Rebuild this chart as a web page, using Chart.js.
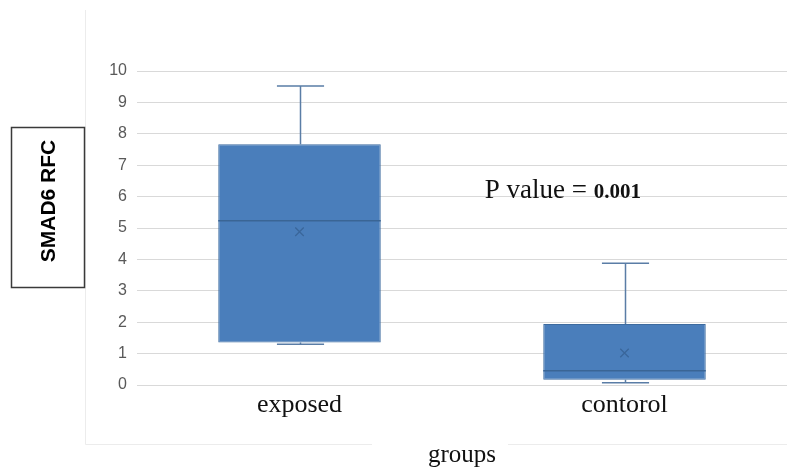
<!DOCTYPE html>
<html><head><meta charset="utf-8">
<script src="https://cdn.jsdelivr.net/npm/chart.js@4/dist/chart.umd.min.js"></script>
<style>html,body{margin:0;padding:0;background:#fff}#wrap{width:787px;height:470px}</style>
</head><body><div id="wrap"><canvas id="c" width="787" height="470"></canvas></div>
<script>
const categories = ['exposed', 'contorol'];
const whiskerMin = [1.30, 0.07];
const q1 = [1.35, 0.17];
const median = [5.23, 0.45];
const q3 = [7.67, 1.94];
const whiskerMax = [9.52, 3.88];
const meanValues = [4.88, 1.02];
const yMin = 0, yMax = 10, yStep = 1;
const yTitle = 'SMAD6 RFC';
const xTitle = 'groups';
const pLabel = 'P value = ';
const pValue = '0.001';

const boxFill = '#4a7ebb';
const boxEdge = '#3d6b9f';
const whiskerColor = '#5a7da6';
const medianColor = '#3a6595';
const serif = '"Liberation Serif", "Times New Roman", serif';

const boxExtras = {
  id: 'boxExtras',
  beforeDraw(chart) {
    const ctx = chart.ctx;
    ctx.save();
    ctx.fillStyle = '#fff';
    ctx.fillRect(0, 0, chart.width, chart.height);
    ctx.strokeStyle = '#ececec';
    ctx.lineWidth = 1;
    ctx.beginPath();
    ctx.moveTo(85.5, 10); ctx.lineTo(85.5, 444.5); ctx.lineTo(372, 444.5);
    ctx.moveTo(508, 444.5); ctx.lineTo(787, 444.5);
    ctx.stroke();
    ctx.restore();
  },
  beforeDatasetsDraw(chart) {
    const ctx = chart.ctx;
    const y = chart.scales.y;
    const meta = chart.getDatasetMeta(0);
    ctx.save();
    ctx.strokeStyle = whiskerColor;
    ctx.lineWidth = 1.5;
    meta.data.forEach((bar, i) => {
      const x = Math.round(bar.x) + 0.5;
      const half = bar.width * 0.145;
      const yTop = y.getPixelForValue(whiskerMax[i]);
      const yQ3 = y.getPixelForValue(q3[i]);
      const yQ1 = y.getPixelForValue(q1[i]);
      const yBot = y.getPixelForValue(whiskerMin[i]);
      ctx.beginPath();
      ctx.moveTo(x, yQ3); ctx.lineTo(x, yTop);
      ctx.moveTo(x - half, yTop); ctx.lineTo(x + half, yTop);
      ctx.moveTo(x, yQ1); ctx.lineTo(x, yBot);
      ctx.moveTo(x - half, yBot); ctx.lineTo(x + half, yBot);
      ctx.stroke();
    });
    ctx.restore();
  },
  afterDatasetsDraw(chart) {
    const ctx = chart.ctx;
    const y = chart.scales.y;
    const meta = chart.getDatasetMeta(0);
    ctx.save();
    ctx.strokeStyle = medianColor;
    ctx.lineWidth = 1.5;
    meta.data.forEach((bar, i) => {
      const ym = y.getPixelForValue(median[i]);
      ctx.beginPath();
      ctx.moveTo(bar.x - bar.width / 2, ym);
      ctx.lineTo(bar.x + bar.width / 2, ym);
      ctx.stroke();
    });
    ctx.restore();
  },
  afterDraw(chart) {
    const ctx = chart.ctx;
    const ca = chart.chartArea;
    const y = chart.scales.y;
    ctx.save();
    ctx.strokeStyle = '#3a3a3a';
    ctx.lineWidth = 1.5;
    ctx.strokeRect(11.5, 127.5, 73, 160);
    ctx.translate(49, 201);
    ctx.rotate(-Math.PI / 2);
    ctx.fillStyle = '#000';
    ctx.font = 'bold 21px "Liberation Sans", Arial, sans-serif';
    ctx.textAlign = 'center';
    ctx.textBaseline = 'middle';
    ctx.fillText(yTitle, 0, 0);
    ctx.restore();
    ctx.save();
    const px = ca.left + 0.535 * (ca.right - ca.left);
    const py = y.getPixelForValue(5.95);
    ctx.fillStyle = '#111';
    ctx.textBaseline = 'alphabetic';
    ctx.textAlign = 'left';
    ctx.font = '27px ' + serif;
    ctx.fillText(pLabel, px, py);
    const w = ctx.measureText(pLabel).width;
    ctx.font = 'bold 21px ' + serif;
    ctx.fillText(pValue, px + w, py);
    ctx.restore();
  }
};

new Chart(document.getElementById('c'), {
  type: 'bar',
  data: {
    labels: categories,
    datasets: [
      {
        type: 'bar',
        data: categories.map((c, i) => [q1[i], q3[i]]),
        backgroundColor: boxFill,
        borderColor: boxEdge,
        borderWidth: 1,
        borderSkipped: false,
        categoryPercentage: 1,
        barPercentage: 0.5,
        order: 2
      },
      {
        type: 'line',
        data: meanValues,
        showLine: false,
        pointStyle: 'crossRot',
        pointRadius: 6,
        pointBorderWidth: 1.3,
        borderColor: '#3a669a',
        pointBorderColor: '#3a669a',
        order: 1
      }
    ]
  },
  options: {
    responsive: false,
    animation: false,
    devicePixelRatio: 1,
    layout: { autoPadding: false, padding: { top: 71, left: 0, right: 0, bottom: 0 } },
    plugins: { legend: { display: false }, tooltip: { enabled: false } },
    scales: {
      x: {
        type: 'category',
        offset: true,
        grid: { display: false, drawTicks: false },
        border: { display: false },
        ticks: { color: '#111', font: { family: serif, size: 26 }, padding: 5 },
        title: { display: true, text: xTitle, color: '#111', font: { family: serif, size: 25 }, padding: { top: 0, bottom: 0 } },
        afterFit(scale) { scale.height = 85; scale.paddingLeft = 0; scale.paddingRight = 0; }
      },
      y: {
        min: yMin, max: yMax,
        ticks: { stepSize: yStep, color: '#595959', font: { family: '"Liberation Sans", Arial, sans-serif', size: 16 }, padding: 10 },
        grid: { color: '#d9d9d9', lineWidth: 1, drawTicks: false },
        border: { display: false },
        afterFit(scale) { scale.width = 137; scale.paddingTop = 0; scale.paddingBottom = 0; }
      }
    }
  },
  plugins: [boxExtras]
});
</script>
</body></html>
